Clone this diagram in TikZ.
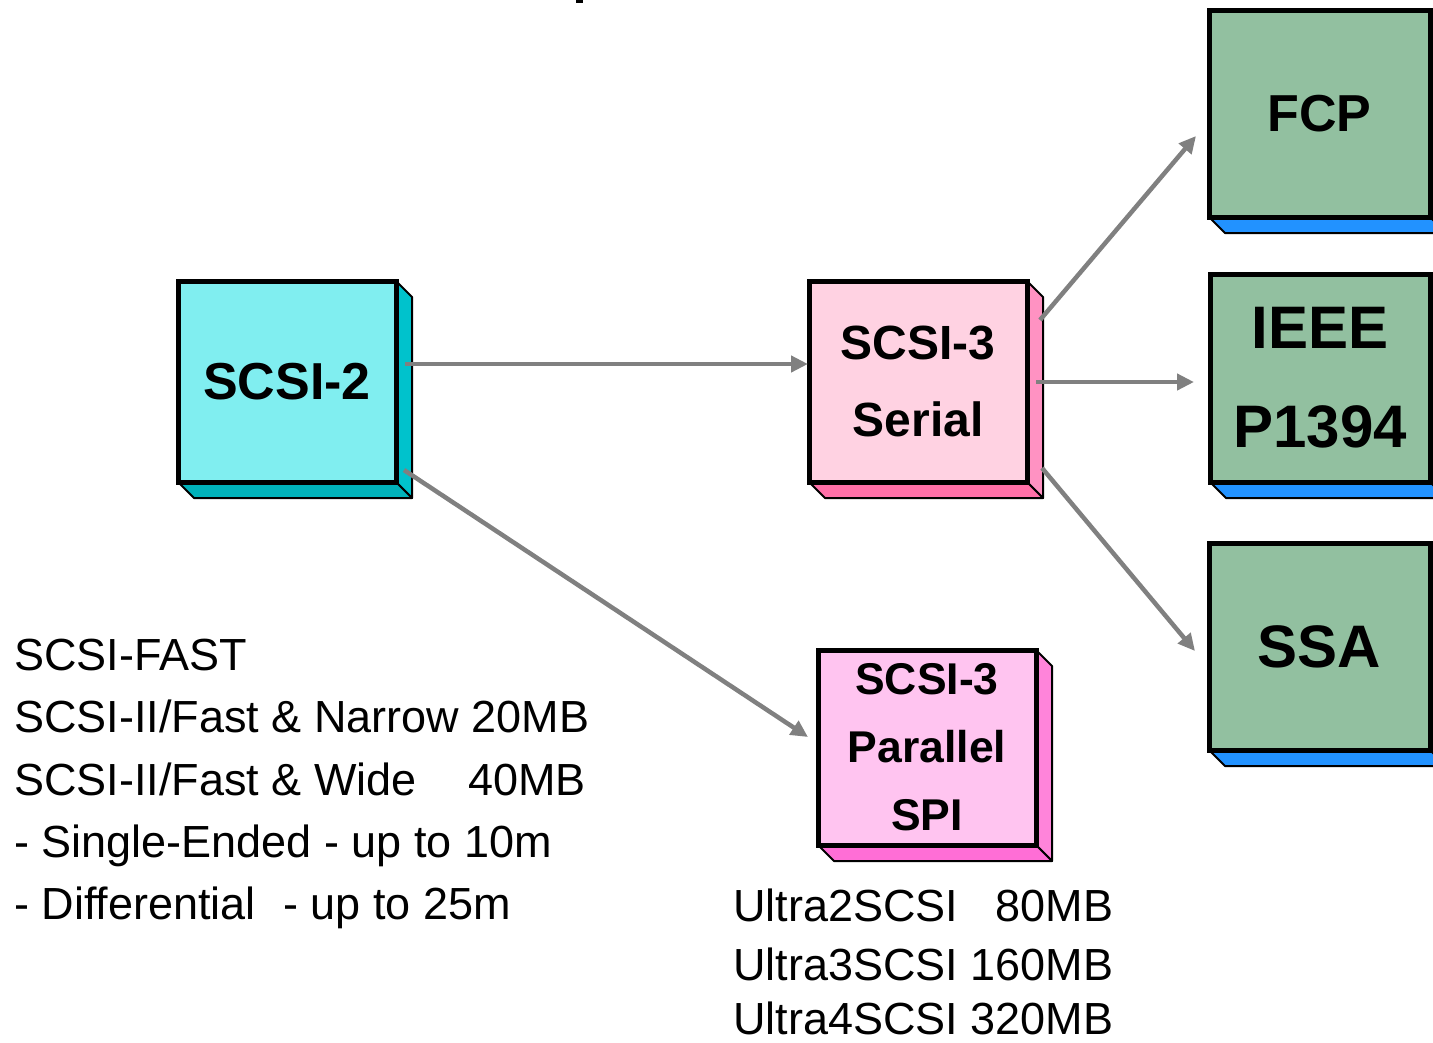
\documentclass[tikz,border=0pt]{standalone}
\usepackage{fontspec}
\setmainfont{Liberation Sans}
\usetikzlibrary{arrows.meta,calc,backgrounds}

\definecolor{cyanfront}{RGB}{128,238,240}
\definecolor{cyanside}{RGB}{0,194,204}
\definecolor{cyanbottom}{RGB}{0,178,186}
\definecolor{serfront}{RGB}{255,210,226}
\definecolor{serside}{RGB}{255,146,194}
\definecolor{serbottom}{RGB}{255,112,168}
\definecolor{parfront}{RGB}{255,196,240}
\definecolor{parside}{RGB}{255,132,218}
\definecolor{parbottom}{RGB}{255,110,214}
\definecolor{greenfront}{RGB}{146,192,160}
\definecolor{bluebottom}{RGB}{34,146,255}
\definecolor{linkgray}{RGB}{128,128,128}

\newcommand{\sidefaces}[3]{%
  \begin{scope}[on background layer]
    \filldraw[fill=#2, line width=2pt, line join=round] (#1.north east) -- ++(16,16) -- ($(#1.south east)+(16,16)$) -- (#1.south east) -- cycle;
    \filldraw[fill=#3, line width=2pt, line join=round] (#1.south west) -- ++(16,16) -- ($(#1.south east)+(16,16)$) -- (#1.south east) -- cycle;
  \end{scope}}

\begin{document}
\begin{tikzpicture}[x=1pt, y=-1pt,
    box/.style={draw, line width=5pt, inner sep=0, outer sep=0, align=center,
                minimum width=218, minimum height=201},
    textline/.style={anchor=base west, inner sep=0, font=\fontsize{45}{54}\selectfont},
    link/.style={draw=linkgray, line width=4.5pt, -{Triangle[length=17pt,width=16pt]}}]
    \useasboundingbox (0,0) rectangle (1433,1042);

    \fill (576,0) rectangle (583,3);

    \node[box, fill=cyanfront, font=\fontsize{52}{60}\selectfont\bfseries] (s2) at (287,381.5) {SCSI-2};
    \node[box, fill=serfront, font=\fontsize{48}{77}\selectfont\bfseries] (ser) at (918,381.5) {SCSI-3\\Serial};
    \node[box, fill=parfront, minimum height=195, font=\fontsize{44.5}{68}\selectfont\bfseries] (par) at (927,747.5) {SCSI-3\\Parallel\\SPI};
    \node[box, fill=greenfront, minimum width=221, minimum height=207, font=\fontsize{52}{60}\selectfont\bfseries] (fcp) at (1319.5,113.5) {FCP};
    \node[box, fill=greenfront, minimum width=220, minimum height=208, font=\fontsize{60}{99}\selectfont\bfseries] (ieee) at (1320,378) {IEEE\\P1394};
    \node[box, fill=greenfront, minimum width=221, minimum height=207, font=\fontsize{60}{60}\selectfont\bfseries] (ssa) at (1319.5,646.5) {SSA};

    \sidefaces{s2}{cyanside}{cyanbottom}
    \sidefaces{ser}{serside}{serbottom}
    \sidefaces{par}{parside}{parbottom}
    \sidefaces{fcp}{bluebottom}{bluebottom}
    \sidefaces{ieee}{bluebottom}{bluebottom}
    \sidefaces{ssa}{bluebottom}{bluebottom}

    \draw[link] ($(s2.east)+(9,-17.5)$) -- ($(ser.west)+(-1,-17.5)$);
    \draw[link] ($(s2.south east)+(8,-12)$) -- ($(par.west)+(-10,-10.5)$);
    \draw[link] ($(ser.north east)+(13,39)$) -- ($(fcp.west)+(-13,22.5)$);
    \draw[link] ($(ser.east)+(9,0.5)$) -- ($(ieee.west)+(-16,4)$);
    \draw[link] ($(ser.south east)+(15,-14)$) -- ($(ssa.west)+(-14,4.5)$);

    \node[textline] (fast) at (14,670) {SCSI-FAST};
    \node[textline] (narrow) at (14,732) {SCSI-II/Fast \& Narrow 20MB};
    \node[textline] (wide) at (14,795) {SCSI-II/Fast \& Wide\hspace{39pt} 40MB};
    \node[textline] (single) at (14,857) {- Single-Ended - up to 10m};
    \node[textline] (diff) at (14,919) {- Differential\hspace{15pt} - up to 25m};

    \node[textline] (ultra2) at (733,921) {Ultra2SCSI \phantom{1}80MB};
    \node[textline] (ultra3) at (733,980) {Ultra3SCSI 160MB};
    \node[textline] (ultra4) at (733,1034) {Ultra4SCSI 320MB};
\end{tikzpicture}
\end{document}
